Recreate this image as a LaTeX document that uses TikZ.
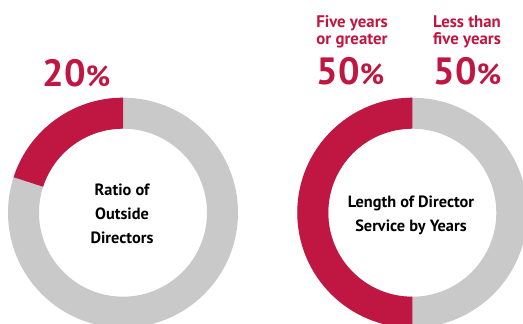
\documentclass[tikz,border=0pt]{standalone}
\usepackage{fontspec}
\setmainfont{PT Sans}
\usetikzlibrary{calc}
\definecolor{crim}{RGB}{192,22,66}
\definecolor{ring}{RGB}{200,201,200}
\begin{document}
\begin{tikzpicture}[x=1pt,y=1pt,
  pct/.style={text=crim,font=\bfseries\fontsize{38}{38}\selectfont,anchor=base,inner sep=0pt},
  lbl/.style={text=crim,font=\bfseries\fontsize{16.8}{17}\selectfont,align=center,anchor=base,inner sep=0pt},
  ctr/.style={text=black,font=\bfseries\fontsize{16.3}{24}\selectfont,align=center,inner sep=0pt}]
\useasboundingbox (0,0) rectangle (523,324);
\clip (0,0) rectangle (523,324);
\fill[white] (0,0) rectangle (523,324);
% left donut
\coordinate (cl) at (123,111.3);
\fill[ring,even odd rule] (cl) circle (115pt) (cl) circle (84pt);
\fill[crim] ($(cl)+(90:115pt)$) arc[start angle=90,end angle=162,radius=115pt]
  -- ($(cl)+(162:84pt)$) arc[start angle=162,end angle=90,radius=84pt] -- cycle;
% right donut
\coordinate (cr) at (412.3,111.3);
\fill[ring,even odd rule] (cr) circle (115pt) (cr) circle (84pt);
\fill[crim] ($(cr)+(90:115pt)$) arc[start angle=90,end angle=270,radius=115pt]
  -- ($(cr)+(270:84pt)$) arc[start angle=270,end angle=90,radius=84pt] -- cycle;
% texts
\node[pct] (p20) at (76.5,237.5) {20{\fontsize{29}{29}\selectfont\%}};
\node[pct] (p50a) at (350.5,239) {50{\fontsize{29}{29}\selectfont\%}};
\node[pct] (p50b) at (467.5,239) {50{\fontsize{29}{29}\selectfont\%}};
\node[lbl] (l5a) at (352,296) {Five years};
\node[lbl] (l5b) at (352,279) {or greater};
\node[lbl] (lla) at (467,296) {Less than};
\node[lbl] (llb) at (467,279) {five years};
\node[ctr] (tl) at (122,110) {Ratio of\\Outside\\Directors};
\node[ctr] (tr) at (411,109) {Length of Director\\Service by Years};
\end{tikzpicture}
\end{document}
